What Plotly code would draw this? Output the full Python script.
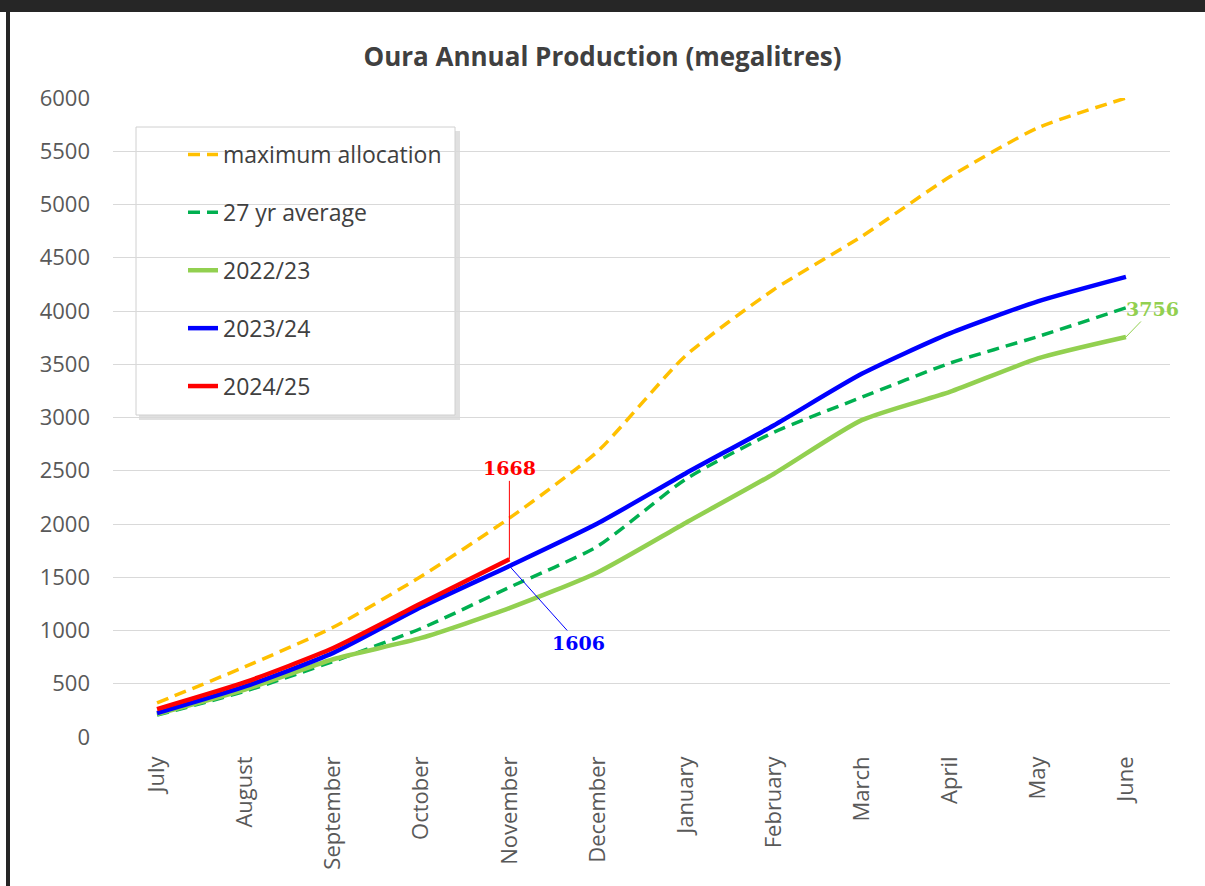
import plotly.graph_objects as go

months = ["July", "August", "September", "October", "November", "December",
          "January", "February", "March", "April", "May", "June"]
max_alloc = [320, 660, 1030, 1510, 2055, 2680, 3580, 4200, 4700, 5260, 5720, 6000]
avg27 = [205, 430, 710, 1020, 1405, 1790, 2420, 2860, 3190, 3510, 3760, 4030]
y2223 = [215, 445, 730, 930, 1210, 1545, 2010, 2470, 2975, 3240, 3555, 3756]
y2324 = [225, 475, 790, 1220, 1606, 2005, 2475, 2925, 3410, 3790, 4090, 4320]
y2425 = [262, 515, 835, 1255, 1668]

W, H = 1205, 886
ML, MR, MT, MB = 113, 35, 98, 149
PW, PH = W - ML - MR, H - MT - MB


def px(x):
    return (x - ML) / PW


def py(y):
    return (H - MB - y) / PH


fig = go.Figure()
series = [
    ("maximum allocation", months, max_alloc, "#FFC000", 3.5, "12px,7px"),
    ("27 yr average", months, avg27, "#00B050", 3.5, "12px,7px"),
    ("2022/23", months, y2223, "#92D050", 4.5, "solid"),
    ("2023/24", months, y2324, "#0000FF", 4.5, "solid"),
    ("2024/25", months[:len(y2425)], y2425, "#FF0000", 4.5, "solid"),
]
for name, xs, ys, color, w, dash in series:
    fig.add_trace(go.Scatter(
        x=xs, y=ys, name=name, mode="lines", legendgroup=name,
        line=dict(color=color, width=w, dash=dash, shape="spline", smoothing=0.6),
    ))

label_font = dict(family="DejaVu Serif", size=19)
fig.add_annotation(x="November", y=y2425[-1], text="<b>%d</b>" % y2425[-1], showarrow=True,
                   ax=0, ay=-91, arrowhead=0, arrowwidth=1, arrowcolor="#FF0000",
                   font=dict(color="#FF0000", **label_font))
fig.add_annotation(x="November", y=y2324[4], text="<b>%d</b>" % y2324[4], showarrow=True,
                   ax=69, ay=77, arrowhead=0, arrowwidth=1, arrowcolor="#0000FF",
                   font=dict(color="#0000FF", **label_font))
fig.add_annotation(x="June", y=y2223[-1], text="<b>%d</b>" % y2223[-1], showarrow=True,
                   ax=27, ay=-28, arrowhead=0, arrowwidth=1, arrowcolor="#92D050",
                   font=dict(color="#92D050", **label_font))

shapes = [
    # window frame
    dict(type="rect", xref="paper", yref="paper", x0=px(0), x1=px(W), y0=py(0), y1=py(12),
         fillcolor="#262626", line=dict(width=0), layer="above"),
    dict(type="rect", xref="paper", yref="paper", x0=px(6), x1=px(10), y0=py(0), y1=py(H),
         fillcolor="#262626", line=dict(width=0), layer="above"),
    # legend box shadow and box
    dict(type="rect", xref="paper", yref="paper", x0=px(139), x1=px(460), y0=py(131), y1=py(420),
         fillcolor="rgba(0,0,0,0.12)", line=dict(width=0), layer="between"),
    dict(type="rect", xref="paper", yref="paper", x0=px(136), x1=px(455), y0=py(127), y1=py(415),
         fillcolor="white", line=dict(color="#D0D0D0", width=1), layer="between"),
]

fig.update_layout(
    width=W, height=H,
    margin=dict(l=ML, r=MR, t=MT, b=MB),
    paper_bgcolor="white", plot_bgcolor="white",
    title=dict(text="<b>Oura Annual Production (megalitres)</b>", x=0.5, xanchor="center",
               y=1 - 57 / H, yanchor="middle", yref="container",
               font=dict(family="Open Sans", size=26, color="#404040")),
    font=dict(family="Open Sans", color="#595959"),
    showlegend=True,
    legend=dict(x=px(183), y=py(133), xanchor="left", yanchor="top",
                bgcolor="rgba(0,0,0,0)", borderwidth=0, tracegroupgap=25,
                font=dict(family="Open Sans", size=23, color="#404040")),
    shapes=shapes,
)
fig.update_xaxes(type="category", categoryorder="array", categoryarray=months,
                 range=[-0.5, len(months) - 0.5],
                 tickangle=-90, showgrid=False, showline=False, zeroline=False,
                 ticks="", ticklabelstandoff=14,
                 tickfont=dict(family="Open Sans", size=22, color="#595959"))
fig.update_yaxes(range=[0, 6000], dtick=500, showgrid=True, gridcolor="#D9D9D9", gridwidth=1,
                 zeroline=False, showline=False, ticks="", ticklabelstandoff=22,
                 tickfont=dict(family="Open Sans", size=22, color="#595959"))

fig.write_html("out.html", config={"displayModeBar": False},
               post_script="document.body.style.margin='0';document.body.style.overflow='hidden';")
